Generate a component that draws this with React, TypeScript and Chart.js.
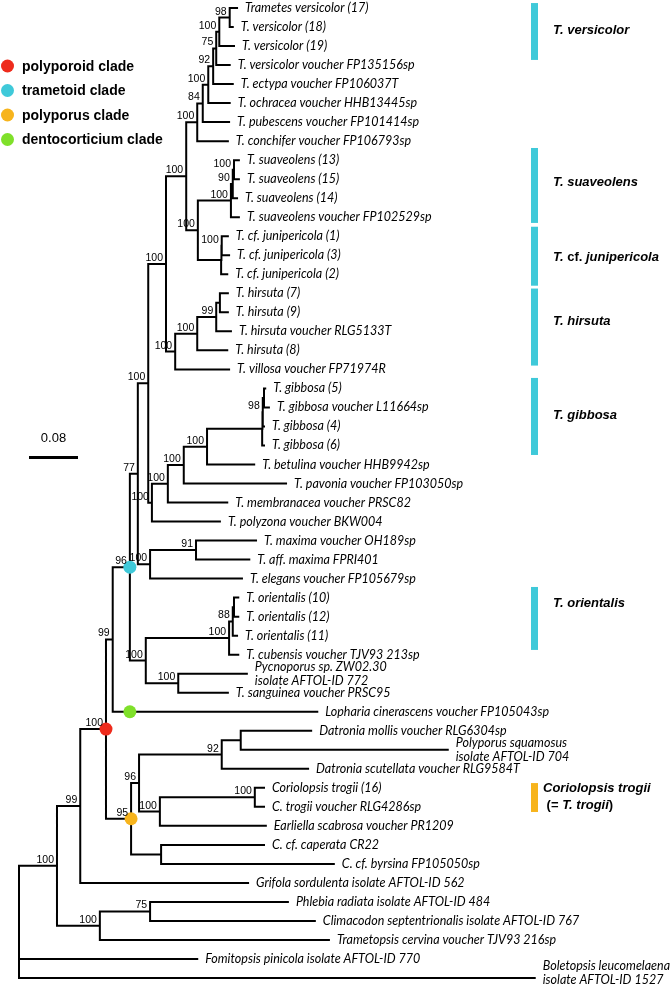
import { useEffect, useRef } from "react";
import { Chart, registerables } from "chart.js";

Chart.register(...registerables);

// ---------- DATA ----------
const leafNames: string[] = [
  "Trametes versicolor (17)",
  "T. versicolor (18)",
  "T. versicolor (19)",
  "T. versicolor voucher FP135156sp",
  "T. ectypa voucher FP106037T",
  "T. ochracea voucher HHB13445sp",
  "T. pubescens voucher FP101414sp",
  "T. conchifer voucher FP106793sp",
  "T. suaveolens (13)",
  "T. suaveolens (15)",
  "T. suaveolens (14)",
  "T. suaveolens voucher FP102529sp",
  "T. cf. junipericola (1)",
  "T. cf. junipericola (3)",
  "T. cf. junipericola (2)",
  "T. hirsuta (7)",
  "T. hirsuta (9)",
  "T. hirsuta voucher RLG5133T",
  "T. hirsuta (8)",
  "T. villosa voucher FP71974R",
  "T. gibbosa (5)",
  "T. gibbosa voucher L11664sp",
  "T. gibbosa (4)",
  "T. gibbosa (6)",
  "T. betulina voucher HHB9942sp",
  "T. pavonia voucher FP103050sp",
  "T. membranacea voucher PRSC82",
  "T. polyzona voucher BKW004",
  "T. maxima voucher OH189sp",
  "T. aff. maxima FPRI401",
  "T. elegans voucher FP105679sp",
  "T. orientalis (10)",
  "T. orientalis (12)",
  "T. orientalis (11)",
  "T. cubensis voucher TJV93 213sp",
  "Pycnoporus sp. ZW02.30\nisolate AFTOL-ID 772",
  "T. sanguinea voucher PRSC95",
  "Lopharia cinerascens voucher FP105043sp",
  "Datronia mollis voucher RLG6304sp",
  "Polyporus squamosus\nisolate AFTOL-ID 704",
  "Datronia scutellata voucher RLG9584T",
  "Coriolopsis trogii (16)",
  "C. trogii voucher RLG4286sp",
  "Earliella scabrosa voucher PR1209",
  "C. cf. caperata CR22",
  "C. cf. byrsina FP105050sp",
  "Grifola sordulenta isolate AFTOL-ID 562",
  "Phlebia radiata isolate AFTOL-ID 484",
  "Climacodon septentrionalis isolate AFTOL-ID 767",
  "Trametopsis cervina voucher TJV93 216sp",
  "Fomitopsis pinicola isolate AFTOL-ID 770",
  "Boletopsis leucomelaena\nisolate AFTOL-ID 1527",
];

// distance from root (substitutions/site) at each leaf tip
const leafDepths: number[] = [
  0.356, 0.349, 0.351, 0.344, 0.349, 0.344, 0.343, 0.341,
  0.359, 0.359, 0.356, 0.359, 0.341, 0.343, 0.340,
  0.341, 0.341, 0.346, 0.340, 0.343,
  0.402, 0.408, 0.400, 0.400, 0.384, 0.436, 0.340, 0.328,
  0.387, 0.376, 0.364,
  0.358, 0.358, 0.356, 0.358, 0.372, 0.341,
  0.487,
  0.477, 0.700, 0.472, 0.400, 0.400, 0.403, 0.400, 0.514,
  0.374, 0.439, 0.483, 0.506, 0.291, 0.842,
];

// internal nodes: id, children (number = leaf index), depth, bootstrap support
const nodeIds: string[] = [
  "vA", "vB", "vC", "vD", "vE", "vF", "vG",
  "Sa", "Sb", "Sc", "Ja", "Jb", "SJ", "VSJ",
  "Ha", "Hb", "Hc", "Hd", "U",
  "Ga", "Gb", "Gc", "GB", "GBP", "GBPM", "GBPMZ", "U2",
  "M", "ME", "U3",
  "Oa", "Ob", "Oc", "P", "OP", "T", "TL",
  "D1", "D2", "C1", "C2", "C3", "C4", "Y", "R", "R2",
  "F1", "F2", "R3", "root",
];
const nodeChildren: (number | string)[][] = [
  [0, 1], ["vA", 2], ["vB", 3], ["vC", 4], ["vD", 5], ["vE", 6], ["vF", 7],
  [8, 9], ["Sa", 10], ["Sb", 11], [12, 13], ["Ja", 14], ["Sc", "Jb"], ["vG", "SJ"],
  [15, 16], ["Ha", 17], ["Hb", 18], ["Hc", 19], ["VSJ", "Hd"],
  [20, 21], ["Ga", 22], ["Gb", 23], ["Gc", 24], ["GB", 25], ["GBP", 26], ["GBPM", 27], ["U", "GBPMZ"],
  [28, 29], ["M", 30], ["U2", "ME"],
  [31, 32], ["Oa", 33], ["Ob", 34], [35, 36], ["Oc", "P"], ["U3", "OP"], ["T", 37],
  [38, 39], ["D1", 40], [41, 42], ["C1", 43], ["D2", "C2"], [44, 45], ["C3", "C4"], ["TL", "Y"], ["R", 46],
  [47, 48], ["F1", 49], ["R2", "F2"], ["R3", 50, 51],
];
const nodeDepths: number[] = [
  0.344, 0.327, 0.322, 0.317, 0.309, 0.300, 0.291,
  0.351, 0.349, 0.346, 0.331, 0.330, 0.292, 0.273,
  0.328, 0.322, 0.291, 0.255, 0.240,
  0.400, 0.398, 0.397, 0.307, 0.269, 0.243, 0.217, 0.211,
  0.289, 0.214, 0.194,
  0.351, 0.349, 0.343, 0.260, 0.207, 0.181, 0.153,
  0.362, 0.331, 0.385, 0.230, 0.196, 0.232, 0.183, 0.142, 0.100,
  0.214, 0.132, 0.062, 0,
];
const nodeSupport: (number | null)[] = [
  98, 100, 75, 92, 100, 84, 100,
  100, 90, 100, 100, null, 100, 100,
  null, 99, 100, 100, 100,
  null, 98, null, 100, 100, 100, 100, 100,
  91, 100, 77,
  null, 88, 100, 100, 100, 96, 99,
  null, 92, 100, 100, 96, null, 95, 100, 99,
  75, 100, 100, null,
];

// clade markers
const cladeNames: string[] = ["polyporoid clade", "trametoid clade", "polyporus clade", "dentocorticium clade"];
const cladeColors: string[] = ["#EE2B1C", "#3FC9D9", "#F7B41C", "#7FE02A"];
const cladeMarkerAt: (number | string)[] = ["R", "T", "Y", 37];
const cladeMarkerDepth: number[] = [0.142, 0.181, 0.183, 0.181];

// side bars (ranges in leaf rows)
const groupLabels: string[] = [
  "*T. versicolor*",
  "*T. suaveolens*",
  "*T.* cf. *junipericola*",
  "*T. hirsuta*",
  "*T. gibbosa*",
  "*T. orientalis*",
  "*Coriolopsis trogii*\n (= *T. trogii*)",
];
const groupStart: number[] = [-0.26, 7.36, 11.5, 14.75, 19.45, 30.44, 40.75];
const groupEnd: number[] = [2.73, 11.3, 14.6, 18.8, 23.5, 33.75, 42.27];
const groupLabelRow: number[] = [1.16, 9.15, 13.09, 16.5, 21.4, 31.28, 41.46];
const groupColors: string[] = ["#3FC9D9", "#3FC9D9", "#3FC9D9", "#3FC9D9", "#3FC9D9", "#3FC9D9", "#F7B41C"];

const scaleBarValue = 0.08;

// ---------- helpers ----------
const nodeIndex: Record<string, number> = {};
nodeIds.forEach((id, i) => (nodeIndex[id] = i));

function depthOf(ref: number | string): number {
  return typeof ref === "number" ? leafDepths[ref] : nodeDepths[nodeIndex[ref]];
}

function computeNodeRows(): Record<string, number> {
  const rows: Record<string, number> = {};
  const rowOf = (ref: number | string) => (typeof ref === "number" ? ref : rows[ref]);
  nodeIds.forEach((id, i) => {
    const ch = nodeChildren[i];
    rows[id] = (rowOf(ch[0]) + rowOf(ch[ch.length - 1])) / 2;
  });
  return rows;
}

const W = 670;
const H = 988;
const PX_PER_UNIT = 612.5;
const ROOT_PX = 19;
const ROW_TOP = 8;
const ROW_STEP = 19.02;

export default function App() {
  const ref = useRef<HTMLCanvasElement | null>(null);

  useEffect(() => {
    if (!ref.current) return;
    const rows = computeNodeRows();
    const rowOf = (r: number | string) => (typeof r === "number" ? r : rows[r]);

    const branchPts: { x: number; y: number | null }[] = [];
    nodeIds.forEach((id, i) => {
      const d = nodeDepths[i];
      const ny = rows[id];
      nodeChildren[i].forEach((c) => {
        const cy = rowOf(c);
        branchPts.push({ x: d, y: ny });
        branchPts.push({ x: d, y: cy });
        branchPts.push({ x: depthOf(c), y: cy });
        branchPts.push({ x: depthOf(c), y: null });
      });
    });

    const markerPts = cladeMarkerAt.map((m, i) => ({ x: cladeMarkerDepth[i], y: rowOf(m) }));

    const textPlugin = {
      id: "treeText",
      afterDatasetsDraw(chart: any) {
        const ctx: CanvasRenderingContext2D = chart.ctx;
        const xs = chart.scales.x;
        const ys = chart.scales.y;
        ctx.save();
        ctx.fillStyle = "#000";

        // leaf labels
        ctx.font = "italic 12.5px Lato";
        ctx.textAlign = "left";
        ctx.textBaseline = "middle";
        leafNames.forEach((name, i) => {
          const px = xs.getPixelForValue(leafDepths[i]) + 8;
          const py = ys.getPixelForValue(i);
          const lines = name.split("\n");
          const lh = 14;
          let top = py - ((lines.length - 1) / 2) * lh;
          const last = top + (lines.length - 1) * lh;
          if (last > H - 8) top -= last - (H - 8);
          lines.forEach((ln, k) => {
            ctx.fillText(ln, px, top + k * lh);
          });
        });

        // support values
        ctx.font = '10.5px "Liberation Sans"';
        ctx.textAlign = "right";
        ctx.textBaseline = "alphabetic";
        nodeIds.forEach((id, i) => {
          const s = nodeSupport[i];
          if (s == null) return;
          const px = xs.getPixelForValue(nodeDepths[i]) - 3;
          const py = ys.getPixelForValue(rows[id]) - 3;
          ctx.fillText(String(s), px, py);
        });

        // group bars + labels
        groupLabels.forEach((lab, i) => {
          const y0 = ys.getPixelForValue(groupStart[i]);
          const y1 = ys.getPixelForValue(groupEnd[i]);
          ctx.fillStyle = groupColors[i];
          ctx.fillRect(531, y0, 7, y1 - y0);
          ctx.fillStyle = "#000";
          const lines = lab.split("\n");
          const cy = ys.getPixelForValue(groupLabelRow[i]);
          const tx = i === groupLabels.length - 1 ? 543 : 553;
          ctx.textAlign = "left";
          ctx.textBaseline = "middle";
          lines.forEach((ln, k) => {
            let x = tx;
            const y = cy + (k - (lines.length - 1) / 2) * 17;
            const parts = ln.split("*");
            parts.forEach((p, j) => {
              if (!p) return;
              const italic = j % 2 === 1;
              ctx.font = (italic ? "italic " : "") + 'bold 13px "Liberation Sans"';
              ctx.fillText(p, x, y);
              x += ctx.measureText(p).width;
            });
          });
        });

        // legend
        cladeNames.forEach((n, i) => {
          const y = 66 + i * 24.5;
          ctx.fillStyle = cladeColors[i];
          ctx.beginPath();
          ctx.arc(7.5, y, 6.5, 0, Math.PI * 2);
          ctx.fill();
          ctx.fillStyle = "#000";
          ctx.font = 'bold 14px "Liberation Sans"';
          ctx.textAlign = "left";
          ctx.textBaseline = "middle";
          ctx.fillText(n, 22, y + 1);
        });

        // scale bar
        const len = xs.getPixelForValue(scaleBarValue) - xs.getPixelForValue(0);
        ctx.fillRect(29, 456, len, 3);
        ctx.font = '13px "Liberation Sans"';
        ctx.textAlign = "center";
        ctx.textBaseline = "middle";
        ctx.fillText(String(scaleBarValue), 29 + len / 2, 438);
        ctx.restore();
      },
    };

    const xMin = -ROOT_PX / PX_PER_UNIT;
    const yMin = -ROW_TOP / ROW_STEP;

    const chart = new Chart(ref.current, {
      type: "line",
      data: {
        datasets: [
          {
            type: "scatter",
            data: markerPts,
            order: 0,
            pointRadius: 6.5,
            pointBorderWidth: 0,
            pointBackgroundColor: cladeColors,
            pointBorderColor: cladeColors,
            showLine: false,
            clip: false,
          } as any,
          {
            type: "line",
            data: branchPts as any,
            order: 1,
            borderColor: "#000",
            borderWidth: 2,
            pointRadius: 0,
            spanGaps: false,
            tension: 0,
            borderCapStyle: "square",
            borderJoinStyle: "miter",
            fill: false,
            clip: false,
          },
        ],
      },
      options: {
        responsive: false,
        maintainAspectRatio: false,
        animation: false,
        events: [],
        layout: { padding: 0, autoPadding: false },
        scales: {
          x: { type: "linear", display: false, min: xMin, max: xMin + W / PX_PER_UNIT },
          y: { type: "linear", display: false, reverse: true, min: yMin, max: yMin + H / ROW_STEP },
        },
        plugins: { legend: { display: false }, tooltip: { enabled: false } },
      },
      plugins: [textPlugin],
    });
    return () => chart.destroy();
  }, []);

  return (
    <div style={{ position: "absolute", left: 0, top: 0, width: W, height: H, background: "#fff" }}>
      <canvas ref={ref} width={W} height={H} style={{ display: "block" }} />
    </div>
  );
}
